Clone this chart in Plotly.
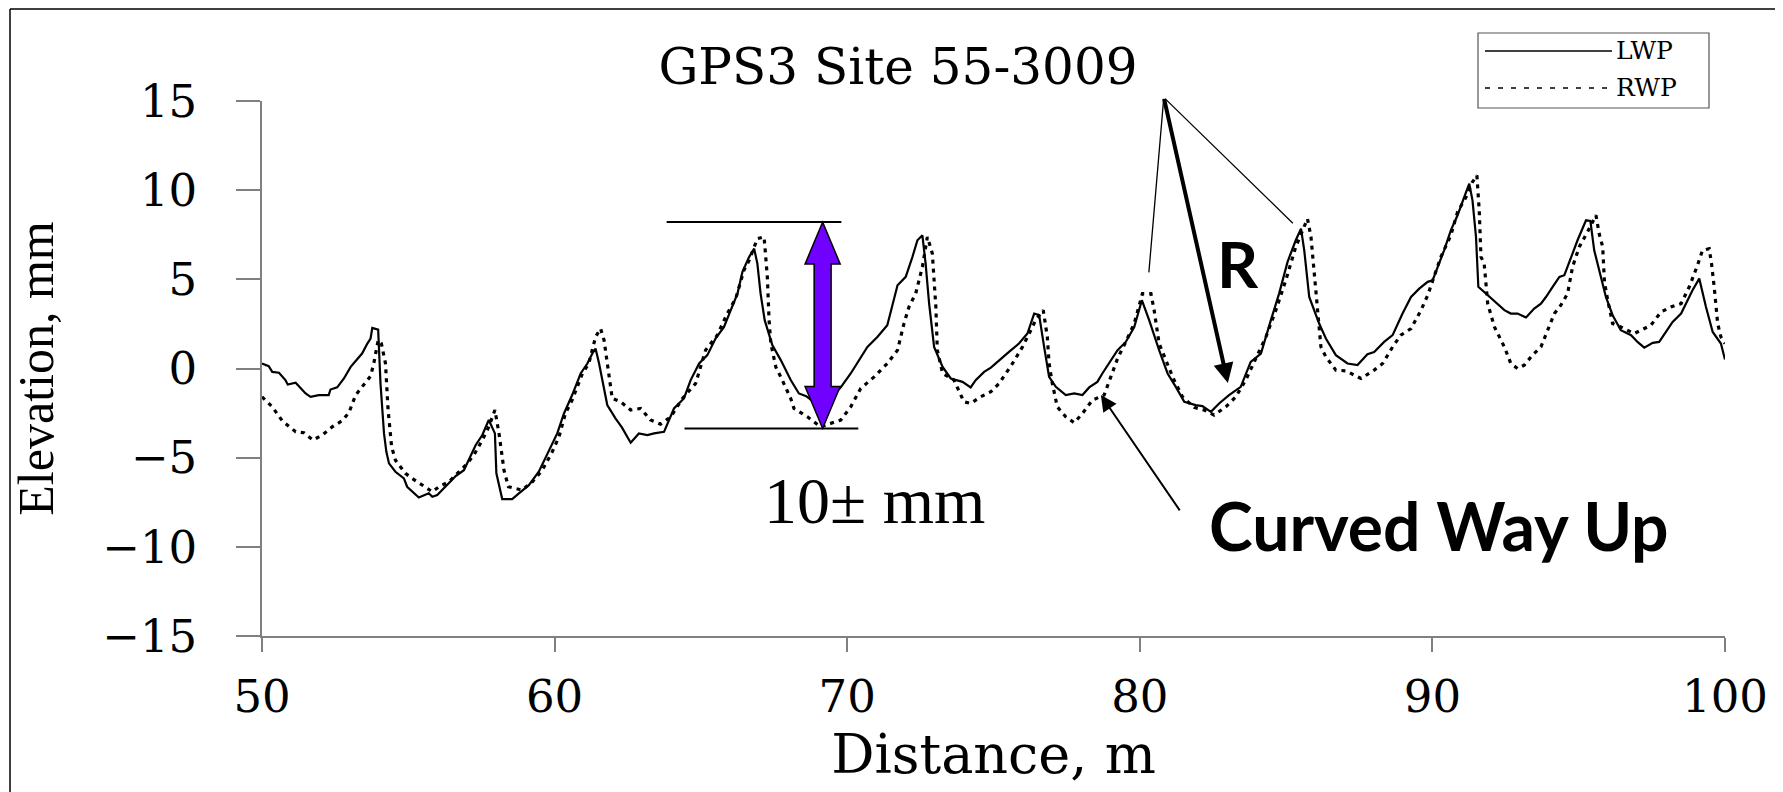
import plotly.graph_objects as go

# ---------------- data ----------------
lwp_x = [50.00, 50.23, 50.35, 50.58, 50.80, 50.88, 51.15, 51.49, 51.66, 51.94, 52.28, 52.34, 52.57, 52.80,
         53.03, 53.20, 53.42, 53.60, 53.71, 53.77, 53.97, 54.05, 54.17, 54.25, 54.34, 54.56, 54.85, 54.96,
         55.36, 55.70, 55.82, 55.99, 56.16, 56.39, 56.62, 56.90, 57.07, 57.30, 57.53, 57.75, 57.96, 58.01,
         58.21, 58.55, 58.78, 59.12, 59.46, 59.81, 60.09, 60.32, 60.60, 60.89, 61.12, 61.29, 61.40, 61.52,
         61.69, 61.80, 62.08, 62.30, 62.60, 62.88, 63.17, 63.40, 63.74, 64.08, 64.42, 64.65, 64.94, 65.22,
         65.50, 65.79, 66.02, 66.25, 66.42, 66.65, 66.82, 66.93, 67.04, 67.18, 67.44, 67.73, 68.07, 68.35,
         68.60, 68.95, 69.30, 69.60, 69.78, 70.12, 70.40, 70.69, 71.03, 71.37, 71.72, 72.00, 72.23, 72.40,
         72.57, 72.68, 72.80, 72.97, 73.26, 73.54, 73.94, 74.22, 74.39, 74.68, 74.91, 75.19, 75.53, 75.87,
         76.16, 76.39, 76.56, 76.73, 76.90, 77.13, 77.47, 77.76, 78.04, 78.27, 78.55, 78.72, 78.95, 79.24,
         79.52, 79.81, 80.07, 80.32, 80.66, 80.95, 81.23, 81.52, 81.91, 82.14, 82.43, 82.71, 83.05, 83.45,
         83.79, 84.14, 84.48, 84.76, 85.05, 85.33, 85.51, 85.62, 85.79, 86.13, 86.36, 86.70, 87.10, 87.44,
         87.78, 88.01, 88.35, 88.64, 88.98, 89.27, 89.55, 89.84, 90.01, 90.23, 90.40, 90.63, 90.86, 91.09,
         91.26, 91.37, 91.49, 91.57, 91.89, 92.23, 92.46, 92.68, 92.91, 93.20, 93.48, 93.71, 93.88, 94.11,
         94.34, 94.51, 94.74, 94.96, 95.25, 95.40, 95.53, 95.76, 95.93, 96.16, 96.44, 96.79, 97.01, 97.24,
         97.53, 97.75, 97.98, 98.21, 98.50, 98.67, 98.89, 99.12, 99.35, 99.58, 99.86, 100.00]
lwp_y = [0.28, 0.13, -0.19, -0.24, -0.65, -0.90, -0.80, -1.40, -1.59, -1.49, -1.49, -1.18, -1.06, -0.56,
         0.09, 0.43, 0.84, 1.40, 1.68, 2.28, 2.18, -0.84, -3.64, -4.67, -5.32, -5.79, -6.16, -6.63,
         -7.23, -7.00, -7.19, -7.10, -6.82, -6.44, -6.03, -5.70, -5.10, -4.30, -3.73, -2.89, -3.64, -5.88,
         -7.32, -7.32, -7.00, -6.54, -5.79, -4.58, -3.64, -2.52, -1.49, -0.28, 0.28, 0.84, 1.12, 0.28,
         -1.03, -2.05, -2.80, -3.30, -4.16, -3.64, -3.73, -3.64, -3.55, -2.24, -1.68, -0.65, 0.28, 0.75,
         1.68, 2.33, 3.27, 4.20, 5.42, 6.26, 6.72, 5.88, 4.20, 2.71, 1.31, 0.47, -0.65, -1.40,
         -1.55, -2.00, -1.90, -1.40, -1.06, -0.28, 0.47, 1.21, 1.77, 2.43, 4.67, 5.14, 6.26, 7.19,
         7.47, 5.88, 3.64, 1.21, 0.09, -0.56, -0.75, -1.06, -0.65, -0.19, 0.05, 0.47, 0.93, 1.40,
         1.96, 3.08, 2.99, 1.21, -0.47, -1.03, -1.49, -1.40, -1.49, -1.06, -0.75, -0.28, 0.28, 1.03,
         1.49, 2.33, 3.83, 2.71, 1.03, -0.28, -1.03, -1.87, -2.05, -2.11, -2.43, -1.96, -1.49, -1.03,
         0.37, 0.84, 2.71, 4.20, 5.98, 7.19, 7.84, 6.63, 4.01, 2.52, 1.68, 0.75, 0.28, 0.19,
         0.80, 0.93, 1.49, 1.87, 3.08, 4.01, 4.48, 4.86, 4.95, 5.88, 6.63, 7.75, 8.59, 9.62,
         10.36, 9.43, 7.38, 4.58, 4.11, 3.64, 3.27, 3.08, 3.08, 2.86, 3.36, 3.64, 4.01, 4.58,
         5.14, 5.23, 6.26, 7.19, 8.31, 8.27, 6.63, 5.14, 4.01, 2.99, 2.15, 1.87, 1.49, 1.17,
         1.44, 1.49, 2.05, 2.61, 3.08, 3.64, 4.39, 5.04, 3.45, 2.05, 1.40, 0.50]

rwp_x = [50.00, 50.35, 50.69, 51.15, 51.43, 51.74, 52.06, 52.40, 52.74, 52.97, 53.20, 53.42, 53.71, 53.82,
         53.97, 54.08, 54.22, 54.31, 54.43, 54.56, 54.90, 55.13, 55.48, 55.82, 56.05, 56.39, 56.62, 56.96,
         57.24, 57.53, 57.75, 57.96, 58.10, 58.27, 58.42, 58.89, 59.24, 59.58, 59.92, 60.15, 60.37, 60.60,
         60.95, 61.17, 61.40, 61.57, 61.69, 61.86, 61.97, 62.26, 62.60, 62.94, 63.28, 63.62, 63.97, 64.37,
         64.82, 65.16, 65.56, 65.90, 66.19, 66.47, 66.65, 66.93, 67.16, 67.27, 67.33, 67.39, 67.56, 67.78,
         68.07, 68.18, 68.64, 69.09, 69.78, 70.12, 70.46, 70.92, 71.37, 71.72, 71.94, 72.11, 72.34, 72.57,
         72.74, 72.91, 73.03, 73.08, 73.26, 73.65, 73.99, 74.22, 74.56, 74.91, 75.19, 75.65, 75.99, 76.22,
         76.44, 76.70, 76.84, 76.90, 77.01, 77.18, 77.47, 77.76, 78.04, 78.38, 78.78, 79.01, 79.24, 79.52,
         79.81, 80.09, 80.38, 80.49, 80.66, 80.89, 81.17, 81.46, 81.86, 82.20, 82.54, 82.94, 83.28, 83.62,
         83.97, 84.31, 84.65, 84.99, 85.33, 85.56, 85.73, 85.85, 85.96, 86.07, 86.19, 86.36, 86.70, 87.04,
         87.56, 88.01, 88.30, 88.64, 88.92, 89.27, 89.61, 89.84, 90.06, 90.29, 90.63, 90.86, 91.15, 91.37,
         91.52, 91.60, 91.66, 91.77, 91.89, 92.12, 92.46, 92.68, 92.91, 93.14, 93.42, 93.71, 93.94, 94.17,
         94.39, 94.62, 94.79, 95.02, 95.30, 95.59, 95.70, 95.82, 95.88, 95.99, 96.16, 96.44, 96.90, 97.13,
         97.47, 97.81, 98.15, 98.50, 98.78, 99.06, 99.23, 99.46, 99.54, 99.63, 99.75, 99.86, 100.00]
rwp_y = [-1.59, -2.15, -2.93, -3.55, -3.60, -4.01, -3.73, -3.27, -2.93, -2.48, -1.49, -1.03, -0.43, 0.28,
         1.59, 1.40, 0.28, -2.33, -4.39, -5.14, -5.88, -6.16, -6.54, -6.91, -6.63, -6.35, -5.98, -5.42,
         -4.86, -4.01, -3.27, -2.33, -3.64, -5.70, -6.63, -6.82, -6.35, -5.70, -4.67, -3.83, -2.52, -1.77,
         -0.28, 0.28, 1.77, 2.24, 1.59, -0.47, -1.68, -1.87, -2.33, -2.24, -2.89, -3.12, -2.71, -1.68,
         -0.84, 1.03, 1.87, 3.08, 3.92, 5.51, 6.07, 7.28, 7.38, 5.14, 2.71, 1.40, 0.09, -0.65,
         -1.68, -2.24, -2.71, -3.27, -2.89, -2.15, -1.12, -0.47, 0.28, 1.03, 2.52, 3.45, 4.20, 5.70,
         7.38, 6.44, 3.45, 1.03, -0.28, -0.65, -1.87, -1.96, -1.59, -1.30, -0.84, 0.28, 1.21, 1.96,
         2.71, 3.27, 1.77, 0.28, -0.84, -2.15, -2.71, -3.04, -2.52, -1.77, -1.49, -0.47, 0.56, 1.49,
         2.52, 4.20, 4.20, 3.27, 1.40, 0.47, -0.65, -1.59, -2.18, -2.33, -2.61, -2.15, -1.59, -0.65,
         0.56, 1.77, 3.27, 4.95, 6.82, 7.75, 8.40, 7.38, 5.32, 3.45, 1.21, 0.65, -0.09, -0.13,
         -0.56, -0.09, 0.28, 1.21, 1.87, 2.24, 3.27, 4.11, 5.23, 6.26, 7.47, 8.78, 9.62, 10.46,
         10.83, 8.87, 6.26, 5.88, 3.64, 2.33, 1.21, 0.28, 0.00, 0.19, 0.75, 1.21, 2.15, 3.08,
         3.55, 4.20, 5.70, 6.82, 7.66, 8.59, 7.56, 6.82, 4.86, 3.83, 2.52, 2.33, 1.96, 2.15,
         2.43, 3.17, 3.45, 3.64, 4.58, 5.79, 6.63, 6.72, 5.88, 4.58, 2.52, 1.77, 1.40]

series_names = ["LWP", "RWP"]
x_ticks = [50, 60, 70, 80, 90, 100]
y_ticks = [-15, -10, -5, 0, 5, 10, 15]
title_text = "GPS3 Site 55-3009"
x_title = "Distance, m"
y_title = "Elevation, mm"

# annotation anchor values (data units)
range_top, range_bottom, range_x = 8.21, -3.36, 69.16
r_apex = (80.82, 15.2)
r_targets = [(80.31, 5.39), (83.01, -0.82), (85.23, 8.15)]

# ---------------- layout geometry ----------------
OFF = 8                       # page body margin
W, H = 1783 - OFF, 792 - OFF  # figure size
ML, MR, MT, MB = 254, 58, 93, 156
PW, PH = W - ML - MR, H - MT - MB


def px(x_page):
    return (x_page - OFF - ML) / PW


def py(y_page):
    return (H - MB - (y_page - OFF)) / PH


SERIF_W = "DejaVu Serif"
SERIF = "Liberation Serif"

fig = go.Figure()
fig.add_trace(go.Scatter(x=lwp_x, y=lwp_y, mode="lines", name=series_names[0],
                         line=dict(color="black", width=2.2), showlegend=False))
fig.add_trace(go.Scatter(x=rwp_x, y=rwp_y, mode="lines", name=series_names[1],
                         line=dict(color="black", width=3.2, dash="4px,5px"), showlegend=False))

shapes = []
annotations = []

# outer frame (top and left edges visible in the reference)
shapes.append(dict(type="line", xref="paper", yref="paper", x0=px(10), x1=px(1790), y0=py(9), y1=py(9),
                   line=dict(color="black", width=1.5)))
shapes.append(dict(type="line", xref="paper", yref="paper", x0=px(10), x1=px(10), y0=py(9), y1=py(800),
                   line=dict(color="black", width=1.5)))

# manual legend
shapes.append(dict(type="rect", xref="paper", yref="paper", x0=px(1478), x1=px(1709), y0=py(108), y1=py(33),
                   line=dict(color="#555555", width=1.2), fillcolor="white"))
shapes.append(dict(type="line", xref="paper", yref="paper", x0=px(1485), x1=px(1612), y0=py(51), y1=py(51),
                   line=dict(color="black", width=1.5)))
shapes.append(dict(type="line", xref="paper", yref="paper", x0=px(1485), x1=px(1612), y0=py(88), y1=py(88),
                   line=dict(color="black", width=1.5, dash="5px,8px")))
for name, yy in zip(series_names, [51, 88]):
    annotations.append(dict(text=name, xref="paper", yref="paper", x=px(1614), y=py(yy), xanchor="left",
                            yanchor="middle", showarrow=False, font=dict(family=SERIF_W, size=25, color="black")))

# range markers and double arrow
shapes.append(dict(type="line", xref="x", yref="y", x0=63.83, x1=69.80, y0=range_top, y1=range_top,
                   line=dict(color="black", width=2)))
shapes.append(dict(type="line", xref="x", yref="y", x0=64.44, x1=70.38, y0=range_bottom, y1=range_bottom,
                   line=dict(color="black", width=2)))
sw, hw, hl = 0.29, 0.60, 2.35
cx, t, b = range_x, range_top, range_bottom
pts = [(cx, t), (cx + hw, t - hl), (cx + sw, t - hl), (cx + sw, b + hl), (cx + hw, b + hl), (cx, b),
       (cx - hw, b + hl), (cx - sw, b + hl), (cx - sw, t - hl), (cx - hw, t - hl)]
path = "M " + " L ".join(f"{p[0]},{p[1]}" for p in pts) + " Z"
shapes.append(dict(type="path", xref="x", yref="y", path=path, fillcolor="#7000FF",
                   line=dict(color="black", width=1.5), layer="above"))

annotations.append(dict(text="10\u00b1 mm", x=70.94, y=-7.38, xref="x", yref="y", showarrow=False,
                        font=dict(family=SERIF, size=66, color="black")))

# R lines from apex
for i, (tx, ty) in enumerate(r_targets):
    thick = (i == 1)
    annotations.append(dict(text="", x=tx, y=ty, ax=r_apex[0], ay=r_apex[1], xref="x", yref="y",
                            axref="x", ayref="y", showarrow=True,
                            arrowhead=2 if thick else 0, arrowsize=1.0,
                            arrowwidth=4 if thick else 1.3, arrowcolor="black"))
annotations.append(dict(text="<b>R</b>", x=83.35, y=5.90, xref="x", yref="y", showarrow=False,
                        font=dict(family="Lato", size=64, color="black")))

# Curved Way Up
annotations.append(dict(text="", x=78.67, y=-1.49, ax=81.40, ay=-8.04, xref="x", yref="y",
                        axref="x", ayref="y", showarrow=True, arrowhead=2, arrowsize=1.6,
                        arrowwidth=2, arrowcolor="black"))
annotations.append(dict(text="<b>Curved Way Up</b>", x=90.22, y=-8.83, xref="x", yref="y", showarrow=False,
                        font=dict(family="Lato", size=66, color="black")))

fig.update_layout(
    width=W, height=H,
    margin=dict(l=ML, r=MR, t=MT, b=MB, autoexpand=False),
    paper_bgcolor="white", plot_bgcolor="white",
    title=dict(text=title_text, x=(898 - OFF) / W, xref="container", xanchor="center",
               y=1 - (66 - OFF) / H, yref="container", yanchor="middle",
               font=dict(family=SERIF_W, size=50, color="black")),
    shapes=shapes, annotations=annotations, showlegend=False,
    xaxis=dict(range=[50, 100], tickvals=x_ticks, showgrid=False, zeroline=False,
               showline=True, linecolor="#808080", linewidth=1.5,
               ticks="outside", ticklen=14, tickcolor="#808080", tickwidth=1.5,
               ticklabelstandoff=6,
               tickfont=dict(family=SERIF_W, size=45, color="black"),
               title=dict(text=x_title, font=dict(family=SERIF_W, size=54, color="black"), standoff=0)),
    yaxis=dict(range=[-15, 15], tickvals=y_ticks, showgrid=False, zeroline=False,
               showline=True, linecolor="#808080", linewidth=1.5,
               ticks="outside", ticklen=24, tickcolor="#808080", tickwidth=1.5,
               ticklabelstandoff=30,
               tickfont=dict(family=SERIF_W, size=45, color="black"),
               title=dict(text=y_title, font=dict(family=SERIF, size=50, color="black"), standoff=48)),
)

fig.write_html("out.html")
